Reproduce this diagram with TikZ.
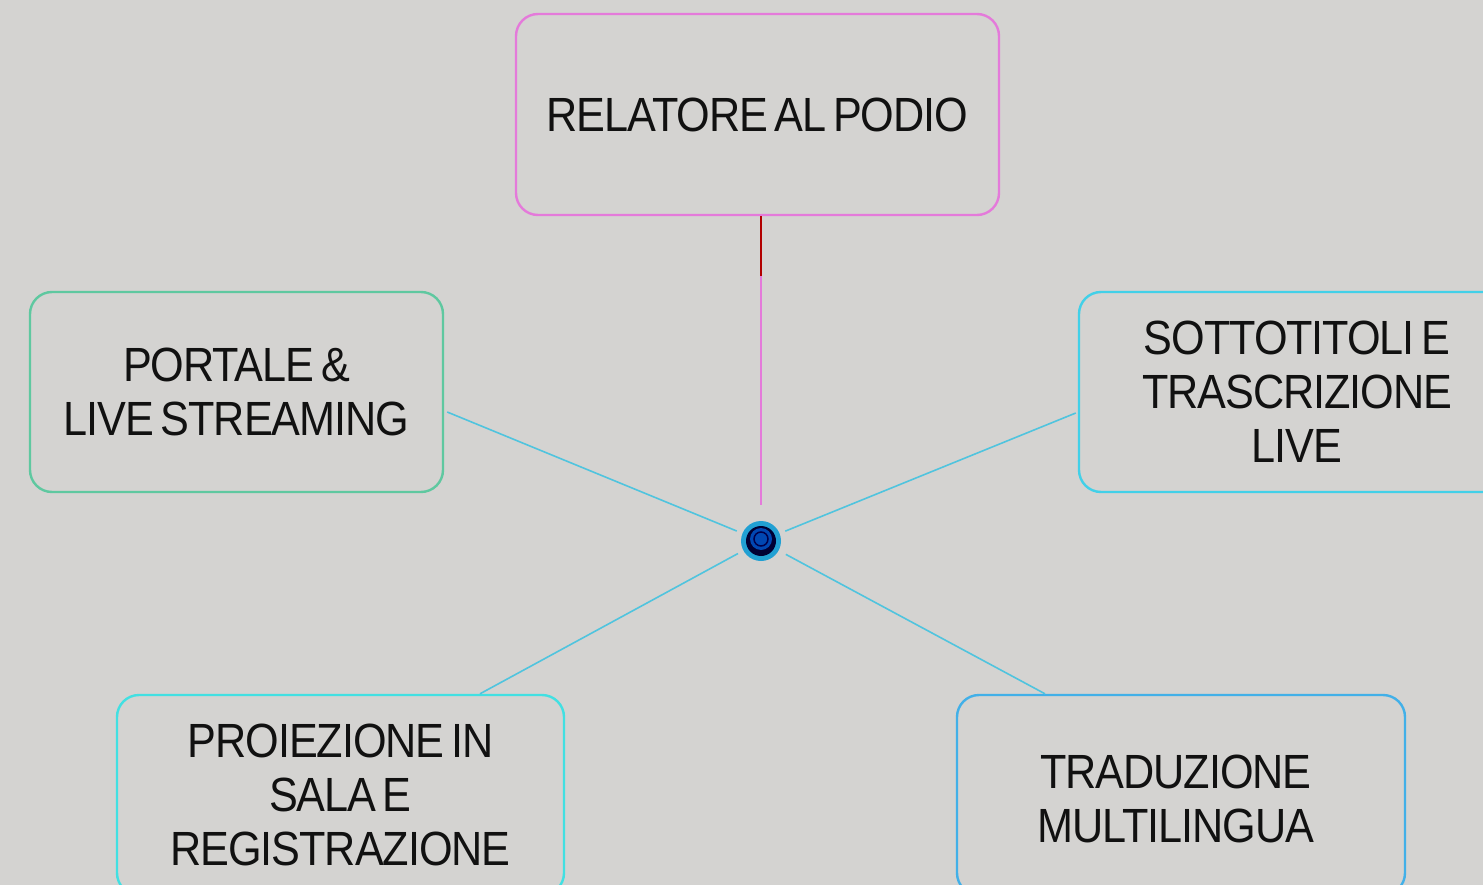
\documentclass[tikz,border=0pt]{standalone}
\usepackage{fontspec}
\setmainfont{Liberation Sans}[FakeStretch=0.9,LetterSpace=-2.2,WordSpace=0.6]
\usetikzlibrary{calc}
\definecolor{bg}{RGB}{212,211,209}
\definecolor{cpink}{RGB}{228,122,218}
\definecolor{cgreen}{RGB}{95,200,160}
\definecolor{ccyan}{RGB}{66,208,232}
\definecolor{cturq}{RGB}{66,224,226}
\definecolor{cblue}{RGB}{66,176,232}
\definecolor{linkc}{RGB}{80,196,222}
\definecolor{txt}{RGB}{17,17,17}
\tikzset{
  box/.style={draw, line width=2.4pt, rounded corners=22pt, fill=none,
    text=txt, align=center, inner sep=0pt,
    font=\fontsize{48}{54}\selectfont},
  link/.style={line width=1.6pt, draw=linkc},
}
\begin{document}
\begin{tikzpicture}[x=1pt,y=-1pt]
\fill[bg] (0,0) rectangle (1483,885);
\useasboundingbox (0,0) rectangle (1483,885);
\clip (0,0) rectangle (1483,885);

\node[box, draw=cpink, minimum width=483pt, minimum height=201pt] (top) at (757.5,114.5) {RELATORE AL PODIO};
\node[box, draw=cgreen, minimum width=413pt, minimum height=200pt] (left) at (236.5,392) {PORTALE \&\\LIVE STREAMING};
\node[box, draw=ccyan, minimum width=436pt, minimum height=200pt] (right) at (1297,392) {SOTTOTITOLI E\\TRASCRIZIONE\\LIVE};
\node[box, draw=cturq, minimum width=447pt, minimum height=200pt] (bl) at (340.5,795) {PROIEZIONE IN\\SALA E\\REGISTRAZIONE};
\node[box, draw=cblue, minimum width=448pt, minimum height=200pt] (br) at (1181,795) {};
\node[text=txt, align=center, inner sep=0pt, font=\fontsize{48}{54}\selectfont] (brt) at (1176,799) {TRADUZIONE\\MULTILINGUA};

\node[circle, fill=cyan!70!teal, minimum size=40pt, inner sep=0pt] (c) at (761,541) {};
\fill[black!80!blue] (c.center) circle (15pt);
\fill[blue!60!cyan!70!black] ($(c.center)+(0,-2)$) circle (11pt);
\draw[black!70!blue, line width=1.5pt] ($(c.center)+(0,-2)$) circle (7pt);

\coordinate (ts) at ($(top.south)+(3.5,0)$);
\draw[line width=2pt, draw=cpink] (ts) -- (ts |- c) [shorten >=36pt];
\draw[line width=2.6pt, draw=red!70!black] (ts) -- ++(0,60);
\draw[link] ($(left.east)+(3,20)$) -- (c) [shorten >=6pt];
\draw[link] ($(right.west)+(-2,21)$) -- (c) [shorten >=6pt];
\draw[link] ($(bl.north)+(139.5,0)$) -- (c) [shorten >=6pt];
\draw[link] ($(br.north)+(-136,0)$) -- (c) [shorten >=8pt];
\end{tikzpicture}
\end{document}
